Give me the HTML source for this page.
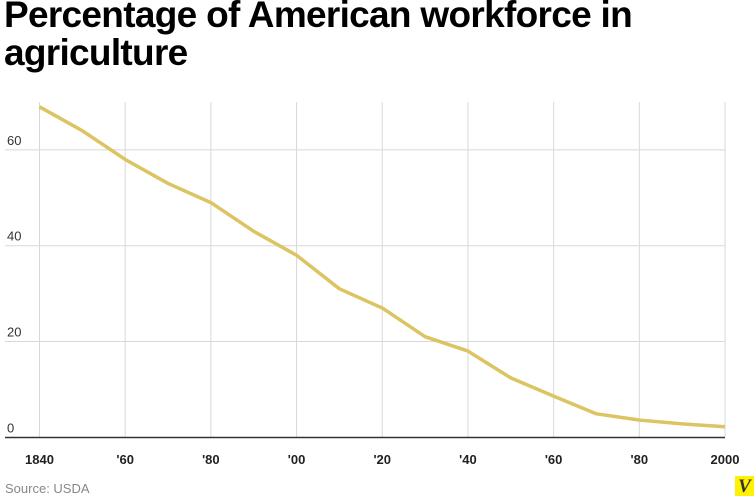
<!DOCTYPE html>
<html><head><meta charset="utf-8"><style>
body{margin:0;width:754px;height:500px;background:#fff;overflow:hidden;font-family:"Liberation Sans",sans-serif;}
#title{position:absolute;left:4px;top:-4px;font-size:37px;font-weight:bold;line-height:38px;letter-spacing:-0.7px;color:#000;margin:0;}
#src{position:absolute;left:5px;top:481px;font-size:13px;color:#888;}
#logo{position:absolute;left:735px;top:476px;width:19px;height:20px;background:#fff200;color:#333;font:italic bold 19px "Liberation Serif",serif;text-align:center;line-height:21px;}
svg{position:absolute;left:0;top:0;}
</style></head><body>
<h1 id="title">Percentage of American workforce in<br>agriculture</h1>
<svg id="chart" width="754" height="500"></svg>
<div id="src">Source: USDA</div>
<div id="logo">V</div>
<script>
const years=[1840,1850,1860,1870,1880,1890,1900,1910,1920,1930,1940,1950,1960,1970,1980,1990,2000];
const values=[69,64,58,53,49,43,38,31,27,21,18,12.4,8.6,4.9,3.6,2.8,2.2];
const yTicks=[0,20,40,60];
const xTicks=[1840,1860,1880,1900,1920,1940,1960,1980,2000];
const xTickLabels=["1840","'60","'80","'00","'20","'40","'60","'80","2000"];
const NS="http://www.w3.org/2000/svg";
const svg=document.getElementById('chart');
const x=v=>39.5+(v-1840)*(725-39.5)/160;
const y=v=>437.3-v*4.79;
function mk(t,a){const e=document.createElementNS(NS,t);for(const k in a)e.setAttribute(k,a[k]);svg.appendChild(e);return e;}
xTicks.forEach((t,i)=>{
  const l=mk('line',{x1:x(t),x2:x(t),y1:102,y2:437,stroke:'#d8d8d8','stroke-width':1});
  
  
  const tx=mk('text',{x:x(t),y:464,'text-anchor':'middle','font-size':13,'font-weight':'bold',fill:'#222','font-family':'Liberation Sans'});
  tx.textContent=xTickLabels[i];
  
  
});
yTicks.forEach(t=>{
  if(t>0){const l=mk('line',{x1:5,x2:725,y1:y(t),y2:y(t),stroke:'#d8d8d8','stroke-width':1});
  
  }
  const tx=mk('text',{x:7,y:y(t)-5,'font-size':13,fill:'#333','font-family':'Liberation Sans'});
  tx.textContent=t;
  
  
});
const ax=mk('line',{x1:5,x2:725,y1:437.5,y2:437.5,stroke:'#333','stroke-width':1.5});


const p=mk('polyline',{points:years.map((yr,i)=>x(yr)+','+y(values[i])).join(' '),fill:'none',stroke:'#dcc462','stroke-width':3.5,'stroke-linejoin':'round'});


</script>
</body></html>
